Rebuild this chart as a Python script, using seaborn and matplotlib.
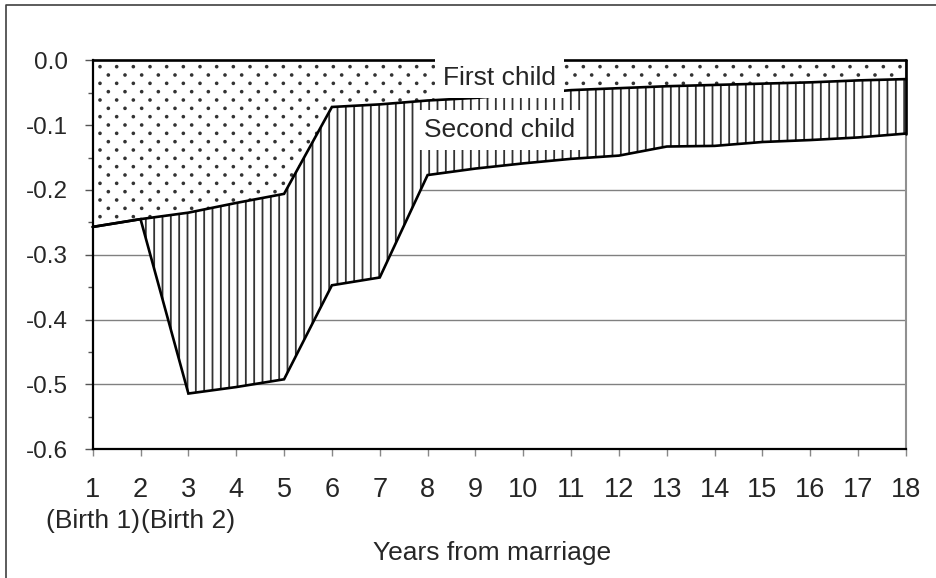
import numpy as np
import pandas as pd
import matplotlib
matplotlib.use("Agg")
import matplotlib.pyplot as plt
import matplotlib.hatch as mhatch
from matplotlib.path import Path
import seaborn as sns
from matplotlib.lines import Line2D
import matplotlib.transforms as mtransforms

# ---------------- data ----------------
years = list(range(1, 19))
first_child = [-0.257, -0.245, -0.235, -0.220, -0.206, -0.072, -0.068, -0.062, -0.058,
               -0.052, -0.046, -0.043, -0.040, -0.038, -0.036, -0.034, -0.031, -0.029]
# cumulative effect of first + second child (lower boundary of the hatched area)
both_children = [-0.257, -0.245, -0.514, -0.504, -0.492, -0.347, -0.335, -0.177, -0.167,
                 -0.159, -0.152, -0.147, -0.133, -0.132, -0.126, -0.123, -0.119, -0.113]
tick_labels = [str(y) for y in years]
birth_marks = {1: "(Birth 1)", 3: "(Birth 2)"}
y_ticks = [0.0, -0.1, -0.2, -0.3, -0.4, -0.5, -0.6]
area_labels = ["First child", "Second child"]
x_title = "Years from marriage"


# ------------- custom sparse dot hatch (Excel-like "small dots") -------------
class ExcelDots(mhatch.HatchPatternBase):
    radius = 0.009

    def __init__(self, hatch, density):
        n = hatch.count(".")
        self.ncols = n * density
        self.nrows = n * density * 2
        circ = Path.unit_circle()
        self.shape_vertices = circ.vertices
        self.shape_codes = circ.codes
        if n == 0:
            self.num_vertices = 0
            self.ndots = 0
        else:
            even = self.nrows // 2 + 1
            odd = self.nrows // 2
            self.ndots = even * (self.ncols + 1) + odd * self.ncols
            self.num_vertices = self.ndots * len(self.shape_vertices)

    def set_vertices_and_codes(self, vertices, codes):
        sv = self.shape_vertices * self.radius
        vparts, cparts = [], []
        for r in range(self.nrows + 1):
            if r % 2 == 0:
                cols = [j / self.ncols for j in range(self.ncols + 1)]
            else:
                cols = [(j + 0.5) / self.ncols for j in range(self.ncols)]
            yy = r / self.nrows
            for xx in cols:
                vparts.append(sv + [xx, yy])
                cparts.append(self.shape_codes)
        np.concatenate(vparts, out=vertices)
        np.concatenate(cparts, out=codes)


mhatch._hatch_types = [ExcelDots if t is mhatch.SmallFilledCircles else t
                       for t in mhatch._hatch_types]

# ---------------- style ----------------
sns.set_theme(style="white")
plt.rcParams["font.family"] = ["Liberation Sans", "DejaVu Sans"]
plt.rcParams["hatch.linewidth"] = 1.3
plt.rcParams["axes.unicode_minus"] = False

W, H = 937, 578
fig = plt.figure(figsize=(W / 100, H / 100), dpi=100)
x0, x1, y0, y1 = 92.7, 906.0, 60.3, 449.3
ax = fig.add_axes([x0 / W, 1 - y1 / H, (x1 - x0) / W, (y1 - y0) / H])

df = pd.DataFrame({"year": years, "first": first_child, "both": both_children})

# areas
ax.fill_between(df["year"], 0, df["first"], facecolor="white", edgecolor="#333333",
                hatch=".", linewidth=0, zorder=2)
sec = df[df["year"] >= 2]
ax.fill_between(sec["year"], sec["first"], sec["both"], facecolor="white",
                edgecolor="#333333", hatch="||", linewidth=0, zorder=2)

# outlines via seaborn
long = pd.concat([
    pd.DataFrame({"year": years, "value": first_child, "series": "first"}),
    pd.DataFrame({"year": years, "value": both_children, "series": "both"}),
])
sns.lineplot(data=long, x="year", y="value", units="series", estimator=None,
             color="black", linewidth=1.9, ax=ax, zorder=4, legend=False)
ax.plot([years[0], years[-1]], [0, 0], color="black", lw=1.9, zorder=4)
ax.plot([years[-1], years[-1]], [0, both_children[-1]], color="black", lw=1.9, zorder=4)
for l in ax.lines:
    l.set_clip_on(False)
    l.set_solid_joinstyle("miter")

# axes
ax.set_xlim(1, 18)
ax.set_ylim(-0.6, 0)
ax.set_xticks(years)
ax.set_xticklabels(tick_labels, fontsize=19.5)
ax.set_yticks(y_ticks)
ax.set_yticklabels([f"{v:.1f}" if v != 0 else "0.0" for v in y_ticks], fontsize=17.5)
ax.set_yticks(np.arange(-0.55, 0, 0.1), minor=True)
ax.tick_params(axis="y", which="major", direction="out", length=6, width=1,
               color="#555555", pad=12, left=True)
ax.tick_params(axis="y", which="minor", direction="out", length=3.5, width=1,
               color="#555555", left=True)
ax.tick_params(axis="x", which="major", direction="out", length=5, width=1,
               color="#888888", pad=15, bottom=True)
ax.set_ylabel("")
ax.set_xlabel(x_title, fontsize=19, va="center")
ax.xaxis.set_label_coords(0.491, (y1 - 553) / (y1 - y0))

trans = mtransforms.blended_transform_factory(ax.transData, ax.transAxes)
for xv, txt in birth_marks.items():
    ax.text(xv, (y1 - 521) / (y1 - y0), txt, transform=trans, fontsize=19,
            ha="center", va="center")

for yv in y_ticks[1:-1]:
    ax.axhline(yv, color="#808080", lw=1, zorder=1)

ax.spines["top"].set_visible(False)
ax.spines["left"].set_color("black")
ax.spines["left"].set_linewidth(1.6)
ax.spines["bottom"].set_color("black")
ax.spines["bottom"].set_linewidth(1.6)
ax.spines["right"].set_color("#909090")
ax.spines["right"].set_linewidth(1.5)
ax.spines["left"].set_zorder(5)

# area labels with white boxes
ax.text(9.5, -0.027, area_labels[0], fontsize=19, ha="center", va="center", zorder=6,
        bbox=dict(boxstyle="square,pad=0.3", facecolor="white", edgecolor="none"))
ax.text(9.5, -0.107, area_labels[1], fontsize=19, ha="center", va="center", zorder=6,
        bbox=dict(boxstyle="square,pad=0.3", facecolor="white", edgecolor="none"))

# figure border (left and top)
fig.add_artist(Line2D([6 / W, 6 / W, 1], [0, 1 - 5 / H, 1 - 5 / H],
                      transform=fig.transFigure, color="#404040", lw=1.2))

fig.savefig("out.png", dpi=100, facecolor="white")
